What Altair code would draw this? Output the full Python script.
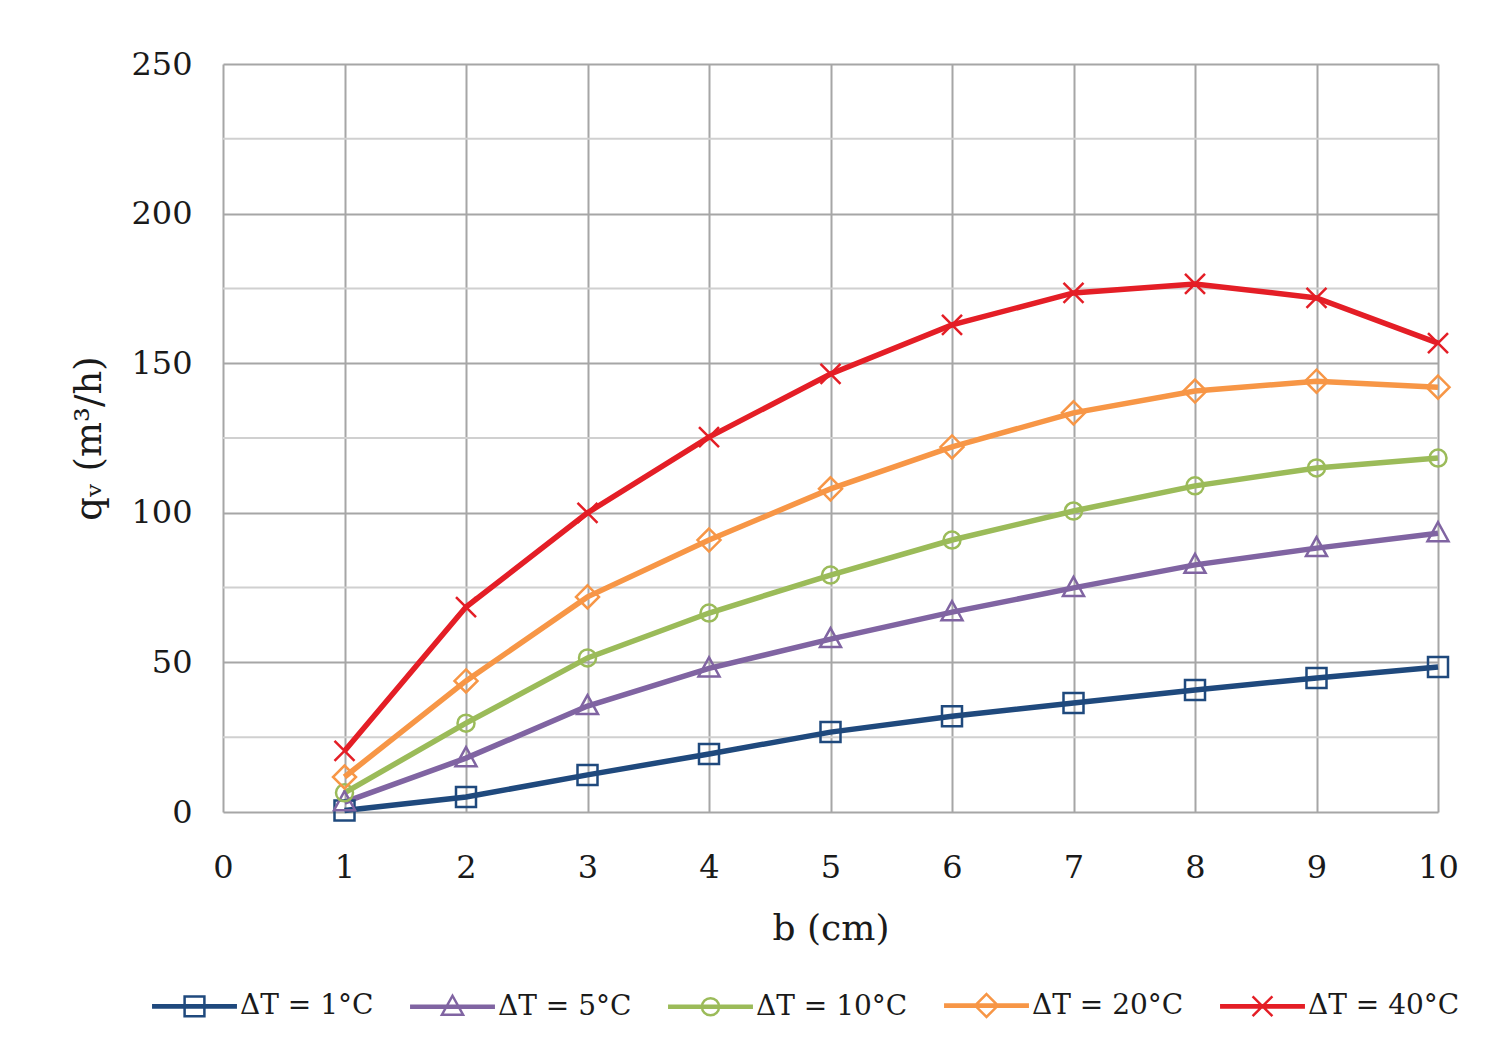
import altair as alt
import pandas as pd

b_cm = [1, 2, 3, 4, 5, 6, 7, 8, 9, 10]
series = ["ΔT = 1°C", "ΔT = 5°C", "ΔT = 10°C", "ΔT = 20°C", "ΔT = 40°C"]
q_1 = [0.5, 5.0, 12.4, 19.4, 26.7, 32.0, 36.4, 40.8, 44.8, 48.5]
q_5 = [3.3, 18.0, 35.4, 48.0, 57.8, 66.8, 74.9, 82.6, 88.2, 93.2]
q_10 = [6.4, 29.7, 51.5, 66.5, 79.2, 90.9, 100.6, 109.0, 115.0, 118.3]
q_20 = [11.7, 43.8, 71.9, 90.9, 108.0, 122.0, 133.4, 140.7, 144.0, 142.0]
q_40 = [20.4, 68.5, 100.0, 125.3, 146.4, 162.8, 173.5, 176.5, 171.8, 156.7]
x_ticks = list(range(0, 11))
y_ticks = [0, 50, 100, 150, 200, 250]
y_minor = [25, 75, 125, 175, 225]

colors = ["#1f497d", "#8064a2", "#9bbb59", "#f79646", "#e41e26"]

plot_shapes = [
    "M-1,-1H1V1H-1Z",
    "M0,-1.1L1.05,0.8H-1.05Z",
    "M-0.85,0A0.85,0.85 0 1,0 0.85,0A0.85,0.85 0 1,0 -0.85,0",
    "M0,-1.15L1.15,0L0,1.15L-1.15,0Z",
    "M-1,-1L1,1M-1,1L1,-1",
]
line_part = "M-1.93,-0.05H1.93M-1.93,0.05H1.93M-1.93,0H1.93"
legend_shapes = [
    line_part + "M-0.45,-0.45H0.45V0.45H-0.45Z",
    line_part + "M0,-0.5L0.48,0.36H-0.48Z",
    line_part + "M-0.39,0A0.39,0.39 0 1,0 0.39,0A0.39,0.39 0 1,0 -0.39,0",
    line_part + "M0,-0.52L0.52,0L0,0.52L-0.52,0Z",
    line_part + "M-0.45,-0.45L0.45,0.45M-0.45,0.45L0.45,-0.45",
]

rows = []
for name, vals in zip(series, [q_1, q_5, q_10, q_20, q_40]):
    for xv, yv in zip(b_cm, vals):
        rows.append({"b": xv, "q": yv, "s": name})
df = pd.DataFrame(rows)
minor_df = pd.DataFrame({"m": y_minor})

FONT = "DejaVu Serif"
TXT = "#1a1a1a"

x_axis = alt.Axis(values=x_ticks, format="d", title="b (cm)", grid=True,
                  gridColor="#a6a6a6", gridWidth=2, domain=False,
                  ticks=False, labelPadding=40, labelFlush=False,
                  labelFont=FONT, labelFontSize=32, labelColor=TXT,
                  titleFont=FONT, titleFontSize=36, titleFontWeight="normal",
                  titleColor=TXT, titlePadding=28)
y_axis = alt.Axis(values=y_ticks, format="d", title="qᵥ (m³/h)", grid=True,
                  gridColor="#a6a6a6", gridWidth=2, domain=False,
                  ticks=False, labelPadding=31, labelFlush=False,
                  labelFont=FONT, labelFontSize=32, labelColor=TXT,
                  titleFont=FONT, titleFontSize=37, titleFontWeight="normal",
                  titleColor=TXT, titlePadding=22)
x_scale = alt.Scale(domain=[0, 10], nice=False)
y_scale = alt.Scale(domain=[0, 250], nice=False)

color_scale = alt.Scale(domain=series, range=colors)

minor = alt.Chart(minor_df).mark_rule(color="#d0d0d0", strokeWidth=2).encode(
    y=alt.Y("m:Q", scale=y_scale, axis=y_axis)
)

lines = alt.Chart(df).mark_line(strokeWidth=5.5).encode(
    x=alt.X("b:Q", scale=x_scale, axis=x_axis),
    y=alt.Y("q:Q", scale=y_scale, axis=y_axis),
    color=alt.Color("s:N", scale=color_scale, legend=None),
    detail="s:N",
)

points = alt.Chart(df).mark_point(filled=False, strokeWidth=2.5, size=400, opacity=1).encode(
    x="b:Q", y="q:Q",
    color=alt.Color("s:N", scale=color_scale, legend=None),
    shape=alt.Shape("s:N", scale=alt.Scale(domain=series, range=plot_shapes), legend=None),
)

leg = alt.Legend(title=None, orient="none", legendX=-52, legendY=918,
                 direction="horizontal", columns=5, padding=0,
                 labelFont=FONT, labelFontSize=28, labelColor=TXT,
                 labelOffset=22, columnPadding=31, symbolSize=1936,
                 symbolStrokeWidth=2.5, symbolOpacity=1, labelLimit=400)

dummy = alt.Chart(df).mark_point(filled=False, opacity=0, size=10).encode(
    x="b:Q", y="q:Q",
    color=alt.Color("s:N", scale=color_scale, legend=leg),
    shape=alt.Shape("s:N", scale=alt.Scale(domain=series, range=legend_shapes), legend=leg),
)

chart = alt.layer(minor, lines, points, dummy).resolve_scale(
    color="independent", shape="independent"
).resolve_legend(color="independent", shape="independent").properties(
    width=1215, height=748,
    autosize=alt.AutoSizeParams(type="none"),
    padding={"left": 215, "top": 56, "right": 60, "bottom": 217},
    background="white",
).configure_view(stroke=None)

chart.save("out.html", embed_options={"renderer": "svg", "actions": False})
